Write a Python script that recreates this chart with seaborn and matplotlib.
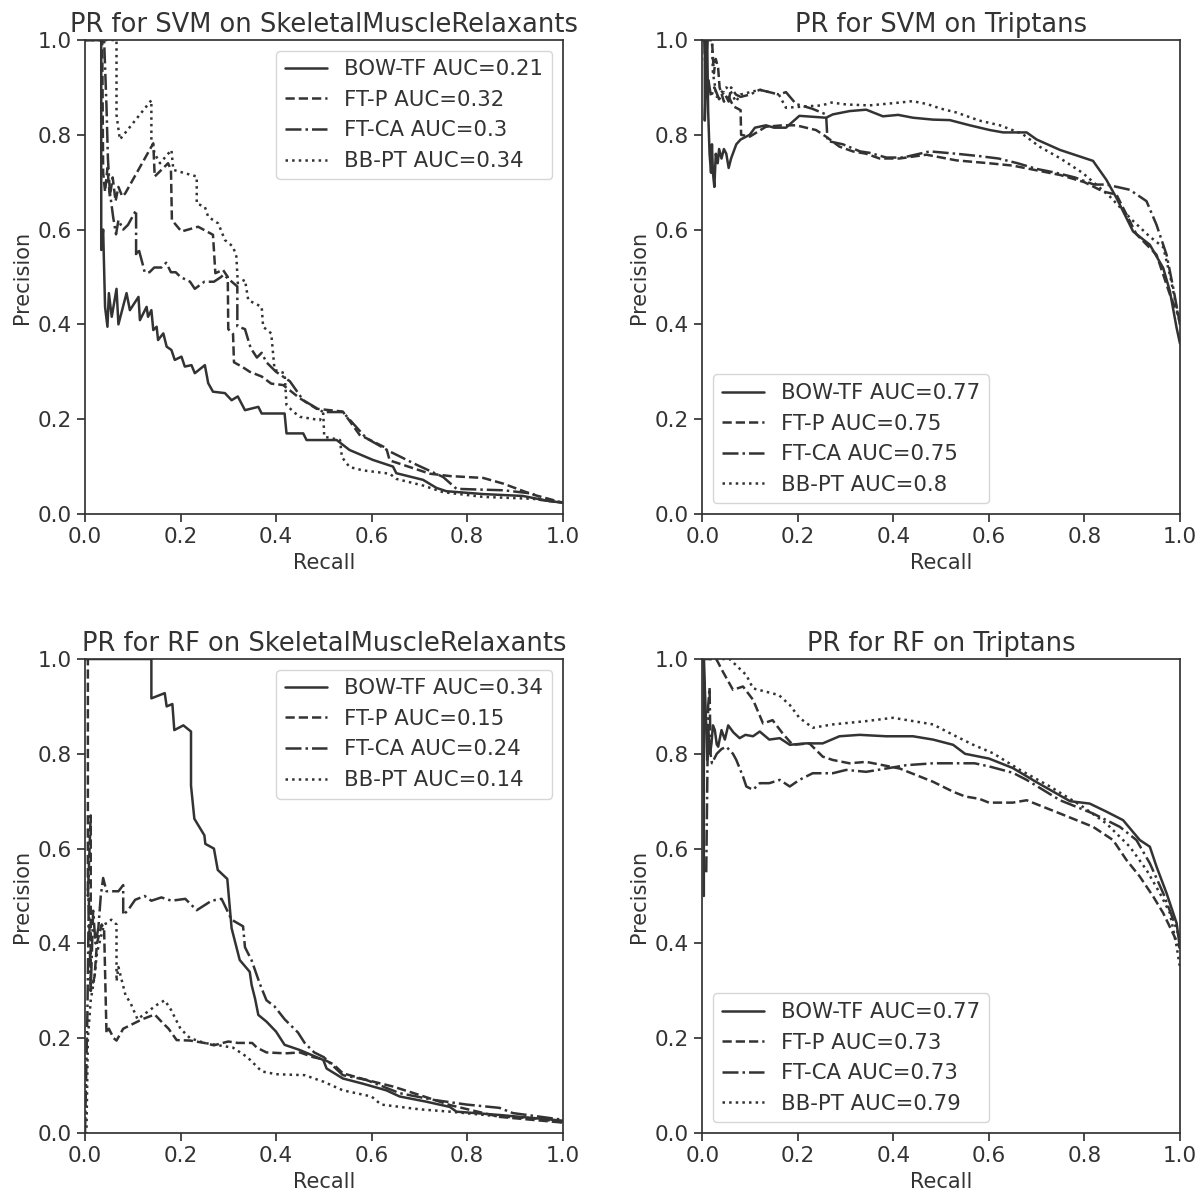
import seaborn as sns
import matplotlib
matplotlib.use('Agg')
import matplotlib.pyplot as plt

# Modelos y estilos
models = ['BOW-TF', 'FT-P', 'FT-CA', 'BB-PT']
line_styles = ['-', '--', '-.', ':']

# AUC por panel
svm_smr_auc = [0.21, 0.32, 0.3, 0.34]
svm_tri_auc = [0.77, 0.75, 0.75, 0.8]
rf_smr_auc = [0.34, 0.15, 0.24, 0.14]
rf_tri_auc = [0.77, 0.73, 0.73, 0.79]

# Curvas PR (recall, precision)
# --- SVM on SkeletalMuscleRelaxants ---
svm_smr_bow = [(0.0, 1.0), (0.034, 1.0), (0.034, 0.557), (0.038, 0.60), (0.042, 0.437), (0.047, 0.395),
               (0.05, 0.466), (0.056, 0.416), (0.066, 0.475), (0.07, 0.40), (0.087, 0.466), (0.094, 0.43),
               (0.112, 0.458), (0.115, 0.409), (0.129, 0.437), (0.132, 0.416), (0.139, 0.43), (0.143, 0.388),
               (0.15, 0.395), (0.153, 0.367), (0.164, 0.381), (0.171, 0.353), (0.181, 0.346), (0.188, 0.325),
               (0.202, 0.332), (0.209, 0.311), (0.223, 0.314), (0.23, 0.297), (0.251, 0.314), (0.258, 0.276),
               (0.268, 0.258), (0.293, 0.255), (0.307, 0.24), (0.32, 0.248), (0.335, 0.219), (0.363, 0.226),
               (0.37, 0.212), (0.39, 0.212), (0.418, 0.212), (0.422, 0.17), (0.457, 0.17), (0.464, 0.156),
               (0.527, 0.156), (0.554, 0.135), (0.603, 0.114), (0.645, 0.1), (0.652, 0.086), (0.708, 0.072),
               (0.736, 0.055), (0.757, 0.048), (0.834, 0.042), (0.917, 0.038), (0.973, 0.027), (1.0, 0.024)]
svm_smr_ftp = [(0.0, 1.0), (0.036, 1.0), (0.038, 0.72), (0.042, 0.68), (0.047, 0.73), (0.052, 0.67),
               (0.058, 0.71), (0.064, 0.66), (0.07, 0.69), (0.078, 0.67), (0.084, 0.676), (0.143, 0.782),
               (0.146, 0.712), (0.174, 0.74), (0.18, 0.726), (0.182, 0.62), (0.202, 0.596), (0.237, 0.606),
               (0.268, 0.589), (0.273, 0.508), (0.289, 0.515), (0.299, 0.50), (0.30, 0.39), (0.31, 0.38),
               (0.312, 0.32), (0.33, 0.31), (0.345, 0.30), (0.37, 0.29), (0.39, 0.275), (0.415, 0.272),
               (0.45, 0.244), (0.485, 0.222), (0.54, 0.216), (0.575, 0.167), (0.631, 0.139), (0.638, 0.113),
               (0.68, 0.099), (0.722, 0.085), (0.764, 0.08), (0.834, 0.076), (0.876, 0.064), (0.924, 0.046),
               (0.945, 0.039), (1.0, 0.024)]
svm_smr_ftca = [(0.0, 1.0), (0.04, 1.0), (0.045, 0.86), (0.048, 0.75), (0.052, 0.68), (0.059, 0.626),
                (0.065, 0.59), (0.07, 0.62), (0.08, 0.60), (0.09, 0.61), (0.107, 0.641), (0.107, 0.544),
                (0.112, 0.56), (0.12, 0.53), (0.125, 0.51), (0.135, 0.51), (0.145, 0.52), (0.16, 0.52),
                (0.17, 0.53), (0.18, 0.51), (0.19, 0.51), (0.2, 0.50), (0.22, 0.49), (0.23, 0.475),
                (0.25, 0.49), (0.27, 0.49), (0.285, 0.50), (0.29, 0.505), (0.319, 0.48), (0.319, 0.396),
                (0.335, 0.39), (0.347, 0.35), (0.36, 0.33), (0.37, 0.34), (0.38, 0.32), (0.40, 0.30),
                (0.429, 0.28), (0.457, 0.24), (0.499, 0.215), (0.54, 0.215), (0.589, 0.16), (0.638, 0.132),
                (0.694, 0.104), (0.75, 0.078), (0.778, 0.053), (0.876, 0.05), (0.938, 0.043), (0.952, 0.03),
                (1.0, 0.024)]
svm_smr_bbpt = [(0.0, 1.0), (0.066, 1.0), (0.066, 0.842), (0.073, 0.79), (0.139, 0.873), (0.139, 0.789),
                (0.146, 0.76), (0.157, 0.74), (0.181, 0.768), (0.185, 0.726), (0.209, 0.719), (0.234, 0.712),
                (0.234, 0.655), (0.251, 0.648), (0.258, 0.627), (0.279, 0.613), (0.293, 0.578), (0.31, 0.564),
                (0.317, 0.543), (0.32, 0.487), (0.335, 0.494), (0.342, 0.451), (0.37, 0.437), (0.373, 0.395),
                (0.39, 0.381), (0.397, 0.304), (0.418, 0.297), (0.422, 0.23), (0.436, 0.216), (0.45, 0.205),
                (0.492, 0.198), (0.499, 0.212), (0.501, 0.163), (0.534, 0.156), (0.538, 0.12), (0.554, 0.099),
                (0.582, 0.092), (0.638, 0.085), (0.652, 0.074), (0.708, 0.06), (0.75, 0.046), (0.834, 0.036),
                (0.938, 0.032), (1.0, 0.024)]

# --- SVM on Triptans ---
svm_tri_bow = [(0.0, 1.0), (0.005, 1.0), (0.005, 0.83), (0.008, 0.95), (0.01, 1.0), (0.012, 0.85),
               (0.015, 0.76), (0.018, 0.72), (0.02, 0.78), (0.022, 0.72), (0.025, 0.69), (0.028, 0.76),
               (0.032, 0.74), (0.035, 0.77), (0.04, 0.75), (0.045, 0.77), (0.05, 0.76), (0.055, 0.73),
               (0.06, 0.75), (0.071, 0.78), (0.08, 0.79), (0.099, 0.80), (0.11, 0.815), (0.133, 0.82),
               (0.15, 0.815), (0.175, 0.815), (0.203, 0.84), (0.259, 0.836), (0.273, 0.843), (0.308, 0.85),
               (0.343, 0.853), (0.378, 0.839), (0.41, 0.842), (0.441, 0.836), (0.483, 0.832), (0.518, 0.831),
               (0.56, 0.82), (0.602, 0.81), (0.63, 0.805), (0.679, 0.805), (0.7, 0.79), (0.749, 0.768),
               (0.797, 0.752), (0.818, 0.745), (0.846, 0.705), (0.867, 0.667), (0.902, 0.596), (0.937, 0.568),
               (0.965, 0.519), (0.979, 0.47), (0.993, 0.393), (1.0, 0.36)]
svm_tri_ftp = [(0.0, 1.0), (0.02, 1.0), (0.024, 0.93), (0.028, 0.96), (0.033, 0.94), (0.036, 0.90),
               (0.045, 0.87), (0.055, 0.88), (0.065, 0.86), (0.08, 0.852), (0.081, 0.80), (0.099, 0.796),
               (0.133, 0.817), (0.168, 0.82), (0.196, 0.82), (0.238, 0.81), (0.259, 0.796), (0.287, 0.775),
               (0.315, 0.765), (0.343, 0.76), (0.371, 0.75), (0.413, 0.75), (0.469, 0.758), (0.532, 0.746),
               (0.6, 0.74), (0.65, 0.735), (0.7, 0.725), (0.75, 0.715), (0.8, 0.70), (0.84, 0.68),
               (0.867, 0.674), (0.909, 0.59), (0.951, 0.547), (0.979, 0.463), (1.0, 0.41)]
svm_tri_ftca = [(0.0, 1.0), (0.004, 1.0), (0.008, 0.88), (0.012, 0.92), (0.018, 0.88), (0.025, 0.90),
                (0.035, 0.875), (0.045, 0.89), (0.055, 0.87), (0.06, 0.90), (0.07, 0.885), (0.08, 0.88),
                (0.1, 0.885), (0.12, 0.895), (0.14, 0.89), (0.16, 0.885), (0.175, 0.89), (0.196, 0.865),
                (0.23, 0.855), (0.259, 0.843), (0.262, 0.787), (0.294, 0.78), (0.33, 0.765), (0.35, 0.762),
                (0.385, 0.752), (0.42, 0.752), (0.476, 0.765), (0.532, 0.76), (0.58, 0.755), (0.62, 0.75),
                (0.66, 0.74), (0.7, 0.728), (0.74, 0.72), (0.78, 0.71), (0.82, 0.695), (0.846, 0.695),
                (0.895, 0.684), (0.93, 0.66), (0.951, 0.61), (0.972, 0.547), (0.986, 0.477), (1.0, 0.40)]
svm_tri_bbpt = [(0.0, 1.0), (0.02, 1.0), (0.022, 0.93), (0.03, 0.88), (0.04, 0.89), (0.05, 0.90),
                (0.06, 0.89), (0.07, 0.87), (0.08, 0.885), (0.1, 0.89), (0.12, 0.895), (0.14, 0.89),
                (0.16, 0.885), (0.175, 0.857), (0.217, 0.86), (0.25, 0.862), (0.27, 0.868), (0.301, 0.864),
                (0.35, 0.862), (0.413, 0.868), (0.44, 0.871), (0.47, 0.865), (0.5, 0.855), (0.532, 0.847),
                (0.58, 0.83), (0.623, 0.82), (0.67, 0.802), (0.706, 0.775), (0.75, 0.75), (0.797, 0.719),
                (0.853, 0.67), (0.9, 0.62), (0.937, 0.585), (0.965, 0.563), (0.98, 0.50), (0.99, 0.45),
                (1.0, 0.40)]

# --- RF on SkeletalMuscleRelaxants ---
rf_smr_bow = [(0.0, 1.0), (0.139, 1.0), (0.139, 0.917), (0.167, 0.928), (0.171, 0.90), (0.183, 0.905),
              (0.187, 0.85), (0.206, 0.86), (0.222, 0.847), (0.222, 0.733), (0.229, 0.663), (0.25, 0.628),
              (0.252, 0.61), (0.27, 0.60), (0.278, 0.555), (0.298, 0.536), (0.307, 0.432), (0.324, 0.365),
              (0.345, 0.34), (0.349, 0.312), (0.356, 0.284), (0.363, 0.249), (0.38, 0.235), (0.40, 0.214),
              (0.418, 0.186), (0.45, 0.175), (0.499, 0.154), (0.506, 0.136), (0.54, 0.115), (0.582, 0.104),
              (0.631, 0.09), (0.659, 0.077), (0.715, 0.066), (0.764, 0.055), (0.778, 0.045), (0.868, 0.038),
              (1.0, 0.026)]
rf_smr_ftp = [(0.0, 1.0), (0.006, 1.0), (0.006, 0.5), (0.012, 0.67), (0.012, 0.3), (0.02, 0.33),
              (0.025, 0.40), (0.03, 0.42), (0.035, 0.44), (0.04, 0.43), (0.045, 0.21), (0.05, 0.22),
              (0.06, 0.20), (0.066, 0.195), (0.08, 0.22), (0.1, 0.23), (0.12, 0.24), (0.146, 0.25),
              (0.16, 0.235), (0.175, 0.22), (0.192, 0.196), (0.22, 0.195), (0.25, 0.19), (0.27, 0.185),
              (0.3, 0.193), (0.32, 0.19), (0.35, 0.19), (0.36, 0.18), (0.38, 0.17), (0.42, 0.168),
              (0.45, 0.17), (0.478, 0.16), (0.5, 0.155), (0.52, 0.145), (0.54, 0.126), (0.589, 0.112),
              (0.645, 0.098), (0.701, 0.08), (0.764, 0.059), (0.868, 0.034), (1.0, 0.022)]
rf_smr_ftca = [(0.0, 0.0), (0.005, 0.25), (0.008, 0.5), (0.012, 0.3), (0.017, 0.469), (0.022, 0.40),
               (0.028, 0.433), (0.033, 0.5), (0.038, 0.538), (0.045, 0.51), (0.07, 0.51), (0.08, 0.523),
               (0.08, 0.46), (0.09, 0.47), (0.105, 0.492), (0.125, 0.50), (0.139, 0.49), (0.16, 0.497),
               (0.181, 0.49), (0.21, 0.494), (0.234, 0.47), (0.265, 0.49), (0.286, 0.494), (0.307, 0.45),
               (0.331, 0.436), (0.335, 0.392), (0.349, 0.364), (0.366, 0.315), (0.38, 0.28), (0.397, 0.267),
               (0.418, 0.24), (0.446, 0.212), (0.46, 0.19), (0.48, 0.17), (0.5, 0.16), (0.54, 0.122),
               (0.589, 0.112), (0.659, 0.084), (0.729, 0.07), (0.799, 0.06), (0.868, 0.053), (0.896, 0.042),
               (1.0, 0.028)]
rf_smr_bbpt = [(0.0, 0.0), (0.003, 0.0), (0.006, 0.2), (0.012, 0.28), (0.02, 0.33), (0.025, 0.38),
               (0.03, 0.40), (0.04, 0.44), (0.05, 0.445), (0.055, 0.45), (0.066, 0.44), (0.066, 0.32),
               (0.07, 0.35), (0.075, 0.33), (0.08, 0.31), (0.085, 0.29), (0.095, 0.275), (0.11, 0.24),
               (0.13, 0.255), (0.15, 0.27), (0.167, 0.28), (0.18, 0.26), (0.2, 0.22), (0.22, 0.20),
               (0.25, 0.19), (0.28, 0.185), (0.31, 0.18), (0.34, 0.16), (0.37, 0.13), (0.4, 0.124),
               (0.46, 0.122), (0.5, 0.108), (0.54, 0.09), (0.6, 0.077), (0.62, 0.06), (0.7, 0.05),
               (0.764, 0.045), (0.868, 0.035), (0.95, 0.03), (1.0, 0.022)]

# --- RF on Triptans ---
rf_tri_bow = [(0.003, 0.5), (0.003, 1.0), (0.005, 0.94), (0.008, 0.86), (0.01, 0.787), (0.012, 0.857),
              (0.016, 0.80), (0.019, 0.822), (0.022, 0.86), (0.026, 0.85), (0.03, 0.82), (0.033, 0.815),
              (0.04, 0.85), (0.047, 0.83), (0.054, 0.86), (0.065, 0.845), (0.078, 0.833), (0.09, 0.84),
              (0.106, 0.837), (0.12, 0.847), (0.14, 0.83), (0.162, 0.833), (0.183, 0.819), (0.217, 0.822),
              (0.252, 0.822), (0.287, 0.837), (0.329, 0.84), (0.385, 0.837), (0.441, 0.837), (0.483, 0.83),
              (0.525, 0.819), (0.55, 0.80), (0.6, 0.79), (0.65, 0.77), (0.7, 0.74), (0.728, 0.724),
              (0.77, 0.70), (0.811, 0.695), (0.846, 0.678), (0.881, 0.66), (0.916, 0.618), (0.937, 0.604),
              (0.951, 0.562), (0.972, 0.506), (0.993, 0.443), (1.0, 0.39)]
rf_tri_ftp = [(0.0, 1.0), (0.029, 1.0), (0.043, 0.973), (0.064, 0.935), (0.085, 0.942), (0.106, 0.914),
              (0.127, 0.864), (0.147, 0.871), (0.168, 0.843), (0.189, 0.819), (0.224, 0.822), (0.252, 0.794),
              (0.273, 0.787), (0.308, 0.78), (0.343, 0.783), (0.378, 0.776), (0.413, 0.769), (0.448, 0.755),
              (0.483, 0.741), (0.525, 0.72), (0.55, 0.71), (0.58, 0.705), (0.6, 0.697), (0.65, 0.697),
              (0.679, 0.702), (0.749, 0.674), (0.818, 0.646), (0.86, 0.618), (0.888, 0.576), (0.916, 0.541),
              (0.944, 0.499), (0.965, 0.464), (0.986, 0.42), (1.0, 0.39)]
rf_tri_ftca = [(0.008, 0.55), (0.012, 0.9), (0.015, 0.94), (0.017, 0.80), (0.02, 0.78), (0.03, 0.80),
               (0.04, 0.81), (0.05, 0.815), (0.064, 0.80), (0.071, 0.787), (0.085, 0.752), (0.092, 0.731),
               (0.106, 0.724), (0.12, 0.738), (0.14, 0.738), (0.162, 0.745), (0.183, 0.731), (0.203, 0.745),
               (0.231, 0.759), (0.273, 0.759), (0.301, 0.766), (0.343, 0.762), (0.385, 0.769), (0.427, 0.776),
               (0.483, 0.78), (0.525, 0.78), (0.57, 0.78), (0.602, 0.773), (0.65, 0.76), (0.679, 0.745),
               (0.749, 0.702), (0.818, 0.674), (0.874, 0.646), (0.909, 0.618), (0.937, 0.569), (0.965, 0.506),
               (0.986, 0.45), (1.0, 0.41)]
rf_tri_bbpt = [(0.0, 1.0), (0.057, 1.0), (0.092, 0.966), (0.106, 0.938), (0.133, 0.931), (0.16, 0.924),
               (0.183, 0.903), (0.203, 0.876), (0.231, 0.855), (0.273, 0.862), (0.343, 0.869), (0.399, 0.876),
               (0.441, 0.869), (0.483, 0.862), (0.525, 0.84), (0.565, 0.82), (0.609, 0.801), (0.665, 0.766),
               (0.728, 0.731), (0.797, 0.688), (0.846, 0.653), (0.895, 0.604), (0.93, 0.555), (0.958, 0.506),
               (0.979, 0.464), (0.993, 0.394), (1.0, 0.35)]

panels = [
    ('PR for SVM on SkeletalMuscleRelaxants', [svm_smr_bow, svm_smr_ftp, svm_smr_ftca, svm_smr_bbpt], svm_smr_auc, 'upper right'),
    ('PR for SVM on Triptans', [svm_tri_bow, svm_tri_ftp, svm_tri_ftca, svm_tri_bbpt], svm_tri_auc, 'lower left'),
    ('PR for RF on SkeletalMuscleRelaxants', [rf_smr_bow, rf_smr_ftp, rf_smr_ftca, rf_smr_bbpt], rf_smr_auc, 'upper right'),
    ('PR for RF on Triptans', [rf_tri_bow, rf_tri_ftp, rf_tri_ftca, rf_tri_bbpt], rf_tri_auc, 'lower left'),
]

sns.set_theme(style='ticks')
plt.rcParams.update({
    'xtick.labelsize': 15.5,
    'ytick.labelsize': 15.5,
    'axes.labelsize': 15,
    'axes.titlesize': 18.5,
    'legend.fontsize': 15.3,
    'text.color': '0.2',
    'axes.labelcolor': '0.2',
    'xtick.color': '0.2',
    'ytick.color': '0.2',
    'axes.edgecolor': '0.2',
})

fig, axes = plt.subplots(2, 2, figsize=(12.04, 11.94), dpi=100)
plt.subplots_adjust(left=0.0706, right=0.980, bottom=0.0511, top=0.9665, wspace=0.293, hspace=0.306)

for ax, (title, curves, aucs, loc) in zip(axes.flat, panels):
    for name, curve, auc, ls in zip(models, curves, aucs, line_styles):
        recall = [c[0] for c in curve]
        precision = [c[1] for c in curve]
        sns.lineplot(x=recall, y=precision, ax=ax, estimator=None, sort=False,
                     color='#333333', linestyle=ls, linewidth=1.8,
                     label=f'{name} AUC={auc}')
    ax.set_xlim(0, 1)
    ax.set_ylim(0, 1)
    ax.set_title(title)
    ax.set_xlabel('Recall')
    ax.set_ylabel('Precision')
    ax.legend(loc=loc)

plt.savefig('out.png', dpi=100)
